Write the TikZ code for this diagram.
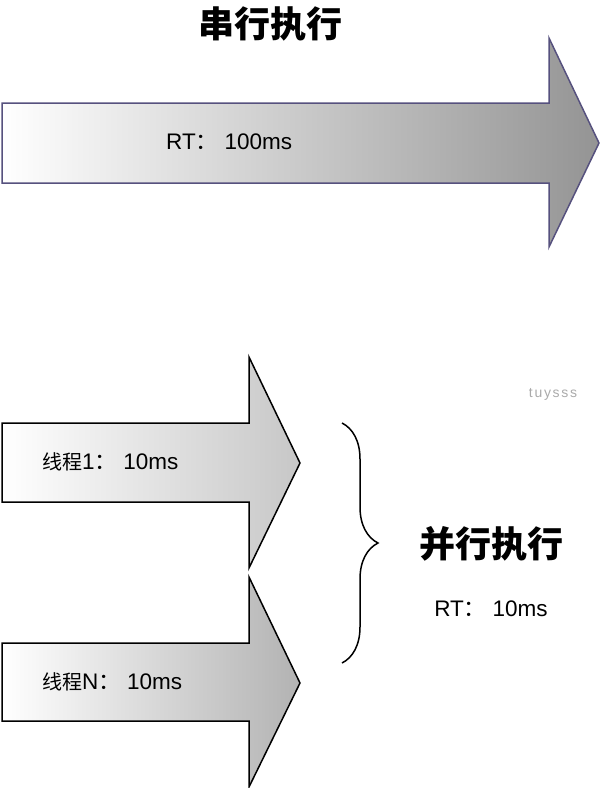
\documentclass[tikz,border=0pt]{standalone}
\usepackage{fontspec}
\setmainfont{Liberation Sans}
\newfontfamily\cjk{Noto Sans CJK SC}
\usetikzlibrary{decorations.pathreplacing}

\definecolor{edgepurple}{HTML}{56517E}
\definecolor{markgray}{HTML}{AAAAAA}

\newcommand\zh[1]{{\cjk\fontsize{20}{24}\selectfont #1}}
\newcommand\wcolon{{\cjk ：}\ }

\begin{document}
\begin{tikzpicture}[x=1pt, y=-1pt,
  rt/.style={inner sep=0pt, font=\fontsize{22.5}{26}\selectfont},
  heading/.style={inner sep=0pt, font=\fontsize{36}{42}\selectfont\cjk\bfseries},
  bigarrow/.style={line width=1.5pt, left color=white}]

\useasboundingbox (0,0) rectangle (600,788);

% serial
\draw[bigarrow, draw=edgepurple, right color=black!42] (2,103) -- ++(547,0) -- ++(0,-65) -- ++(50,105) -- ++(-50,104) -- ++(0,-64) -- ++(-547,0) -- cycle;
\node[heading] (serialTitle) at (270,24) {串行执行};
\node[rt, anchor=west] (serialRT) at (166,142) {RT\wcolon 100ms};

% parallel
\draw[bigarrow, draw=black, right color=black!22] (2,423) -- ++(247,0) -- ++(0,-66) -- ++(51,106) -- ++(-51,105) -- ++(0,-66) -- ++(-247,0) -- cycle;
\draw[bigarrow, draw=black, right color=black!30] (2,643) -- ++(247,0) -- ++(0,-66) -- ++(51,106) -- ++(-51,104) -- ++(0,-66) -- ++(-247,0) -- cycle;
\node[rt, anchor=west] (thread1) at (42,462) {\zh{线程}1\wcolon 10ms};
\node[rt, anchor=west] (threadN) at (42,682) {\zh{线程}N\wcolon 10ms};

\coordinate (braceTop) at (342,423);
\coordinate (braceBot) at (342,663);
\draw[line width=1.5pt, decorate, decoration={brace, amplitude=36pt}] (braceTop) -- (braceBot);

\node[heading] (parallelTitle) at (491,544) {并行执行};
\node[rt] (parallelRT) at (491,609) {RT\wcolon 10ms};

\node[text=markgray, font=\fontsize{14}{16}\selectfont\addfontfeature{LetterSpace=12}] (mark) at (553,394) {tuysss};

\end{tikzpicture}
\end{document}
